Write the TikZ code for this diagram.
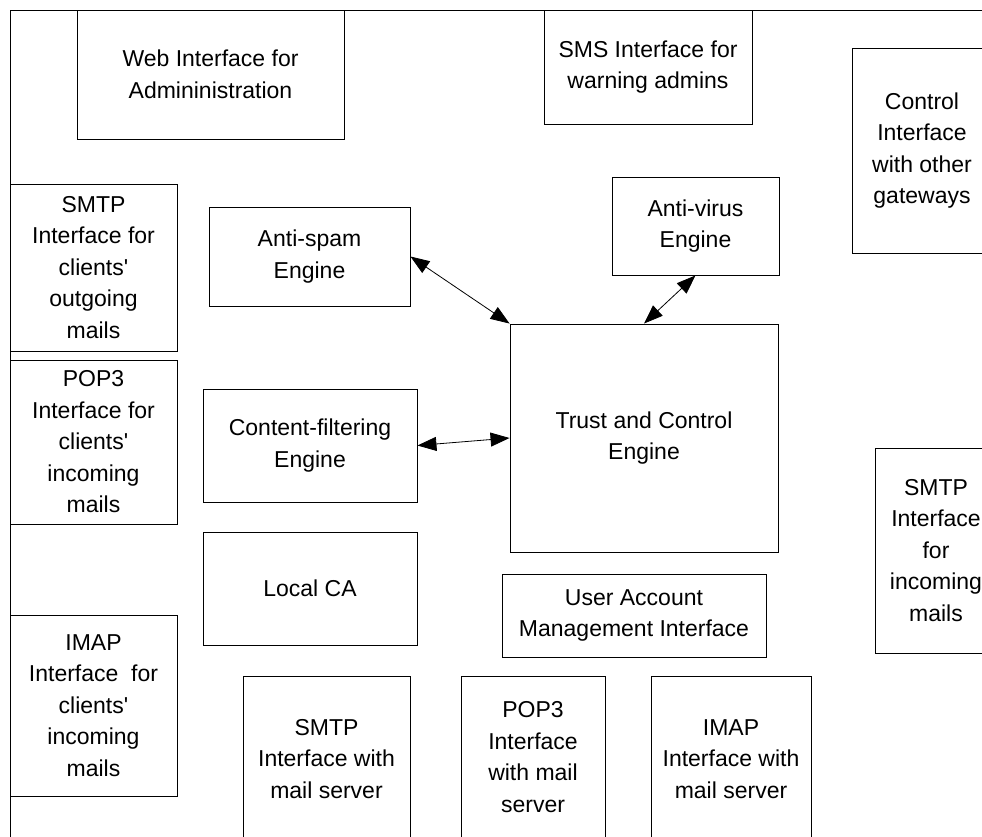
\documentclass[tikz,border=0pt]{standalone}
\usepackage{fontspec}
\setmainfont{Liberation Sans}
\usetikzlibrary{arrows.meta}

\tikzset{
  box/.style={draw=black, line width=0.9pt, rectangle, inner sep=0pt,
    align=center, font=\fontsize{23}{31.5}\selectfont},
  link/.style={line width=0.8pt, {Triangle[length=19pt,width=14pt]}-{Triangle[length=19pt,width=14pt]}}
}

\newcommand{\apos}{\textquotesingle}

\begin{document}
\begin{tikzpicture}[x=1pt, y=-1pt]
  \useasboundingbox (0,0) rectangle (982,837);
  \fill[white] (0,0) rectangle (982,837);

  % outer frame (left and top edges)
  \draw[line width=0.9pt] (10,850) -- (10,10) -- (1000,10);

  % top row
  \node[box, minimum width=267pt, minimum height=129pt] (web) at (210.5,74.5)
    {Web Interface for\\Admininistration};
  \node[box, minimum width=208pt, minimum height=114pt] (sms) at (648,67)
    {SMS Interface for\\warning admins};
  \node[box, minimum width=140pt, minimum height=205pt] (ctrl) at (922,150.5)
    {Control\\Interface\\with other\\gateways};

  % engines
  \node[box, minimum width=167pt, minimum height=98pt] (av) at (695.5,226)
    {Anti-virus\\Engine};
  \node[box, minimum width=201pt, minimum height=99pt] (as) at (309.5,256.5)
    {Anti-spam\\Engine};
  \node[box, minimum width=268pt, minimum height=228pt] (trust) at (644,438)
    {Trust and Control\\Engine};
  \node[box, minimum width=214pt, minimum height=113pt] (cf) at (310,445.5)
    {Content-filtering\\Engine};
  \node[box, minimum width=214pt, minimum height=113pt] (ca) at (310,588.5)
    {Local CA};
  \node[box, minimum width=264pt, minimum height=83pt] (uam) at (634,615.5)
    {User Account\\Management Interface};

  % client-side interfaces
  \node[box, minimum width=167pt, minimum height=167pt] (smtpout) at (93.5,267.5)
    {SMTP\\Interface for\\clients\apos\\outgoing\\mails};
  \node[box, minimum width=167pt, minimum height=164pt] (pop3c) at (93.5,442)
    {POP3\\Interface for\\clients\apos\\incoming\\mails};
  \node[box, minimum width=167pt, minimum height=181pt] (imapc) at (93.5,705.5)
    {IMAP\\Interface\ \ for\\clients\apos\\incoming\\mails};
  \node[box, minimum width=122pt, minimum height=205pt] (smtpin) at (936,550.5)
    {SMTP\\Interface\\for\\incoming\\mails};

  % mail-server interfaces
  \node[box, minimum width=167pt, minimum height=166pt] (smtpms) at (326.5,759)
    {SMTP\\Interface with\\mail server};
  \node[box, minimum width=144pt, minimum height=162pt] (pop3ms) at (533,757)
    {POP3\\Interface\\with mail\\server};
  \node[box, minimum width=160pt, minimum height=166pt] (imapms) at (731,759)
    {IMAP\\Interface with\\mail server};

  % connectors
  \draw[link] (as.east) -- (trust.north west);
  \draw[link] (av.south) -- (trust.north);
  \draw[link] (cf.east) -- (trust.west);
\end{tikzpicture}
\end{document}
